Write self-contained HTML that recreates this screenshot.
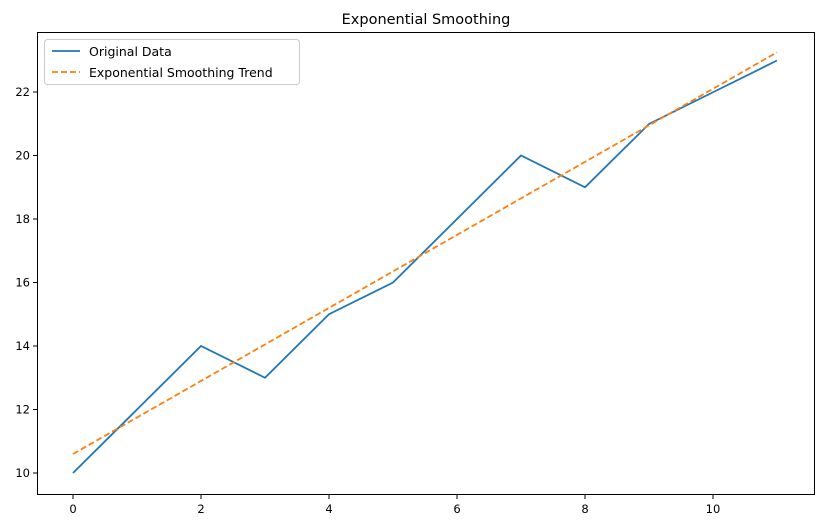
<!DOCTYPE html>
<html><head><style>body{margin:0;background:#fff}svg{display:block;font-family:"DejaVu Sans","Liberation Sans",sans-serif}</style></head>
<body>
<svg width="822" height="528" xmlns="http://www.w3.org/2000/svg">
<rect width="822" height="528" fill="#fff"/>
<text x="426" y="24" font-size="14.5" text-anchor="middle">Exponential Smoothing</text>
<polyline fill="none" stroke="#1f77b4" stroke-width="1.8" points="73,473 137,409.5 201,346 265,377.75 329,314.25 393,282.5 457,219 521,155.5 585,187.25 649,124 713,92.25 777,60.5"/>
<line x1="73" y1="454" x2="777" y2="52.3" stroke="#ff7f0e" stroke-width="1.8" stroke-dasharray="6,3"/>
<rect x="37.5" y="32.5" width="777" height="462" fill="none" stroke="#000" stroke-width="1"/>
<g stroke="#000">
<line x1="73" y1="495" x2="73" y2="499"/><line x1="201" y1="495" x2="201" y2="499"/><line x1="329" y1="495" x2="329" y2="499"/><line x1="457" y1="495" x2="457" y2="499"/><line x1="585" y1="495" x2="585" y2="499"/><line x1="713" y1="495" x2="713" y2="499"/>
<line x1="33" y1="473" x2="37" y2="473"/><line x1="33" y1="409.5" x2="37" y2="409.5"/><line x1="33" y1="346" x2="37" y2="346"/><line x1="33" y1="282.5" x2="37" y2="282.5"/><line x1="33" y1="219" x2="37" y2="219"/><line x1="33" y1="155.5" x2="37" y2="155.5"/><line x1="33" y1="92" x2="37" y2="92"/>
</g>
<g font-size="11.5" text-anchor="middle">
<text x="73" y="513">0</text><text x="201" y="513">2</text><text x="329" y="513">4</text><text x="457" y="513">6</text><text x="585" y="513">8</text><text x="713" y="513">10</text>
</g>
<g font-size="11.5" text-anchor="end">
<text x="30" y="477">10</text><text x="30" y="413.5">12</text><text x="30" y="350">14</text><text x="30" y="286.5">16</text><text x="30" y="223">18</text><text x="30" y="159.5">20</text><text x="30" y="96">22</text>
</g>
<rect x="44.5" y="39.5" width="255" height="45" rx="3" fill="#fff" stroke="#ccc"/>
<line x1="52" y1="51" x2="80" y2="51" stroke="#1f77b4" stroke-width="1.8"/>
<line x1="52" y1="72" x2="80" y2="72" stroke="#ff7f0e" stroke-width="1.8" stroke-dasharray="6,3"/>
<text x="89" y="56" font-size="12.5">Original Data</text>
<text x="89" y="77" font-size="12.5">Exponential Smoothing Trend</text>
</svg>
</body></html>
